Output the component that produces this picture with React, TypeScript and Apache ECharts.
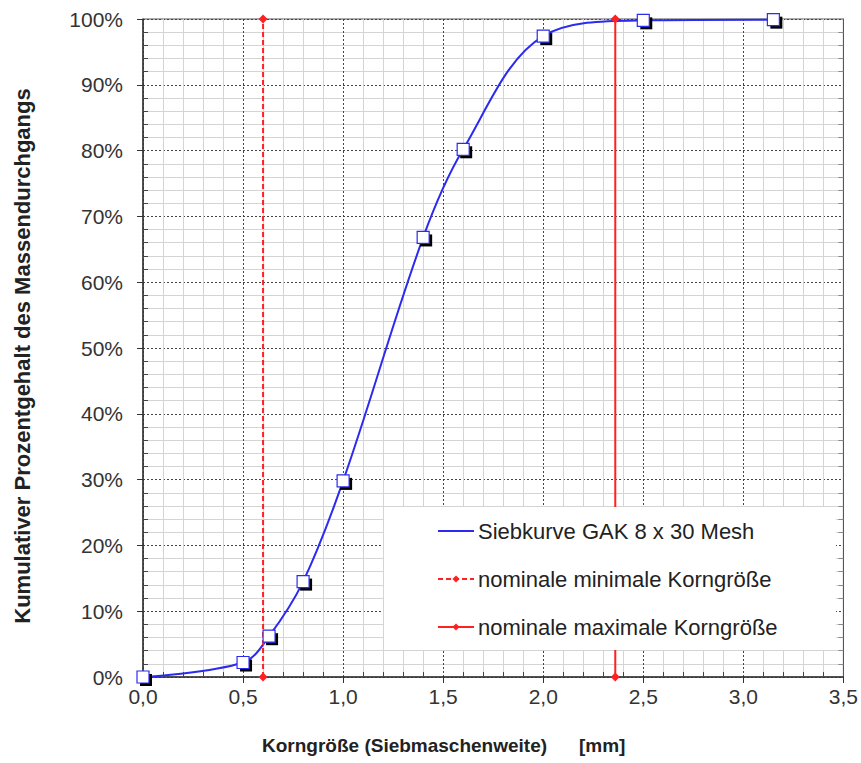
import React, { useEffect, useRef } from "react";
import * as echarts from "echarts";

// Sieve analysis data
const sieveSizes: number[] = [0, 0.5, 0.63, 0.8, 1.0, 1.4, 1.6, 2.0, 2.5, 3.15];
const passingPercent: number[] = [0, 2.2, 6.2, 14.5, 29.8, 66.8, 80.2, 97.4, 99.8, 99.9];
const minGrainSize = 0.6;
const maxGrainSize = 2.36;
const seriesNames: string[] = [
  "Siebkurve GAK 8 x 30 Mesh",
  "nominale minimale Korngröße",
  "nominale maximale Korngröße",
];
const xTitle = "Korngröße (Siebmaschenweite)";
const xUnit = "[mm]";
const yTitle = "Kumulativer Prozentgehalt des Massendurchgangs";

const FONT = "'Liberation Sans', Arial, Helvetica, sans-serif";
const BLUE = "#2b2bf0";
const RED = "#ff2020";

export default function App() {
  const ref = useRef<HTMLDivElement>(null);
  useEffect(() => {
    if (!ref.current) return;
    const chart = echarts.init(ref.current, undefined, { renderer: "svg" });
    const curve = sieveSizes.map((x, i) => [x, passingPercent[i]]);
    const minLine = [[minGrainSize, 0], [minGrainSize, 100]];
    const maxLine = [[maxGrainSize, 0], [maxGrainSize, 100]];
    const axisText = { fontFamily: FONT, fontSize: 21, color: "#333" };

    chart.setOption({
      animation: false,
      backgroundColor: "#fff",
      grid: {
        left: 143,
        right: 16,
        top: 19,
        bottom: 86,
        show: true,
        borderColor: "#555",
        borderWidth: 1,
        backgroundColor: "#fff",
      },
      xAxis: [
        {
          type: "value",
          min: 0,
          max: 3.5,
          interval: 0.5,
          position: "bottom",
          axisLine: { show: true, lineStyle: { color: "#333", width: 1.5 } },
          axisTick: { show: true, inside: false, length: 6, lineStyle: { color: "#333" } },
          minorTick: { show: true, splitNumber: 5, length: 0 },
          axisLabel: {
            ...axisText,
            margin: 9,
            formatter: (v: number) => v.toFixed(1).replace(".", ","),
          },
          splitLine: { show: true, lineStyle: { color: "#444", type: [2, 2], width: 1 } },
          minorSplitLine: { show: true, lineStyle: { color: "#d4d4d4", width: 1 } },
        },
        {
          type: "value",
          min: 0,
          max: 3.5,
          interval: 0.5,
          position: "bottom",
          axisLine: { show: false },
          axisTick: { show: true, inside: true, length: 0 },
          minorTick: { show: true, splitNumber: 5, length: 5, lineStyle: { color: "#444" } },
          axisLabel: { show: false },
          splitLine: { show: false },
        },
      ],
      yAxis: [
        {
          type: "value",
          min: 0,
          max: 100,
          interval: 10,
          position: "left",
          axisLine: { show: true, lineStyle: { color: "#333", width: 1.5 } },
          axisTick: { show: true, inside: false, length: 6, lineStyle: { color: "#333" } },
          minorTick: { show: true, splitNumber: 5, length: 0 },
          axisLabel: { ...axisText, margin: 20, formatter: "{value}%" },
          splitLine: { show: true, lineStyle: { color: "#444", type: [2, 2], width: 1 } },
          minorSplitLine: { show: true, lineStyle: { color: "#d4d4d4", width: 1 } },
        },
        {
          type: "value",
          min: 0,
          max: 100,
          interval: 10,
          position: "left",
          axisLine: { show: false },
          axisTick: { show: true, inside: true, length: 0 },
          minorTick: { show: true, splitNumber: 5, length: 5, lineStyle: { color: "#444" } },
          axisLabel: { show: false },
          splitLine: { show: false },
        },
        {
          type: "value",
          min: 0,
          max: 100,
          interval: 10,
          position: "right",
          axisLine: { show: true, lineStyle: { color: "#555" } },
          axisTick: { show: true, inside: true, length: 0 },
          minorTick: { show: true, splitNumber: 5, length: 5, lineStyle: { color: "#888" } },
          axisLabel: { show: false },
          splitLine: { show: false },
        },
      ],
      legend: {
        data: [
          { name: seriesNames[0], itemStyle: { opacity: 0 } },
          { name: seriesNames[1] },
          { name: seriesNames[2] },
        ],
        orient: "vertical",
        left: 437,
        top: 520,
        padding: 0,
        itemGap: 26,
        itemWidth: 36,
        itemHeight: 9,
        textStyle: { fontFamily: FONT, fontSize: 22, color: "#222", padding: [0, 0, 0, -1] },
        backgroundColor: "transparent",
        z: 5,
      },
      graphic: [
        {
          type: "rect",
          z: 3,
          shape: { x: 384, y: 507, width: 452, height: 143 },
          style: { fill: "#fff", stroke: "none" },
        },
        {
          type: "text",
          x: 22,
          y: 356,
          rotation: Math.PI / 2,
          style: {
            text: yTitle,
            fontFamily: FONT,
            fontSize: 22,
            fontWeight: "bold",
            fill: "#222",
            align: "center",
            verticalAlign: "middle",
            textAlign: "center",
            textVerticalAlign: "middle",
          },
        },
        {
          type: "text",
          x: 262,
          y: 745,
          style: {
            text: xTitle,
            fontFamily: FONT,
            fontSize: 19,
            fontWeight: "bold",
            fill: "#222",
            align: "left",
            verticalAlign: "middle",
            textAlign: "left",
            textVerticalAlign: "middle",
          },
        },
        {
          type: "text",
          x: 579,
          y: 745,
          style: {
            text: xUnit,
            fontFamily: FONT,
            fontSize: 19,
            fontWeight: "bold",
            fill: "#222",
            align: "left",
            verticalAlign: "middle",
            textAlign: "left",
            textVerticalAlign: "middle",
          },
        },
      ],
      series: [
        {
          name: seriesNames[0],
          type: "line",
          data: curve,
          smooth: 0.35,
          symbol: "none",
          color: BLUE,
          lineStyle: { color: BLUE, width: 2 },
          z: 2,
        },
        {
          name: seriesNames[1],
          type: "line",
          data: minLine,
          symbol: "diamond",
          symbolSize: 9,
          color: RED,
          itemStyle: { color: RED },
          lineStyle: { color: RED, width: 2, type: [5, 3] },
          z: 2,
        },
        {
          name: seriesNames[2],
          type: "line",
          data: maxLine,
          symbol: "diamond",
          symbolSize: 9,
          color: RED,
          itemStyle: { color: RED },
          lineStyle: { color: RED, width: 2 },
          z: 2,
        },
        {
          name: "shadow",
          type: "scatter",
          data: curve,
          symbol: "rect",
          symbolSize: 12,
          symbolOffset: [3, 3],
          itemStyle: { color: "#000", opacity: 1 },
          z: 2,
        },
        {
          name: "markers",
          type: "scatter",
          data: curve,
          symbol: "rect",
          symbolSize: 12,
          itemStyle: { color: "#fff", borderColor: BLUE, borderWidth: 1.2, opacity: 1 },
          z: 2,
        },
      ],
    });
    return () => chart.dispose();
  }, []);
  return (
    <div
      ref={ref}
      style={{ position: "fixed", left: 0, top: 0, width: 861, height: 763 }}
    />
  );
}
